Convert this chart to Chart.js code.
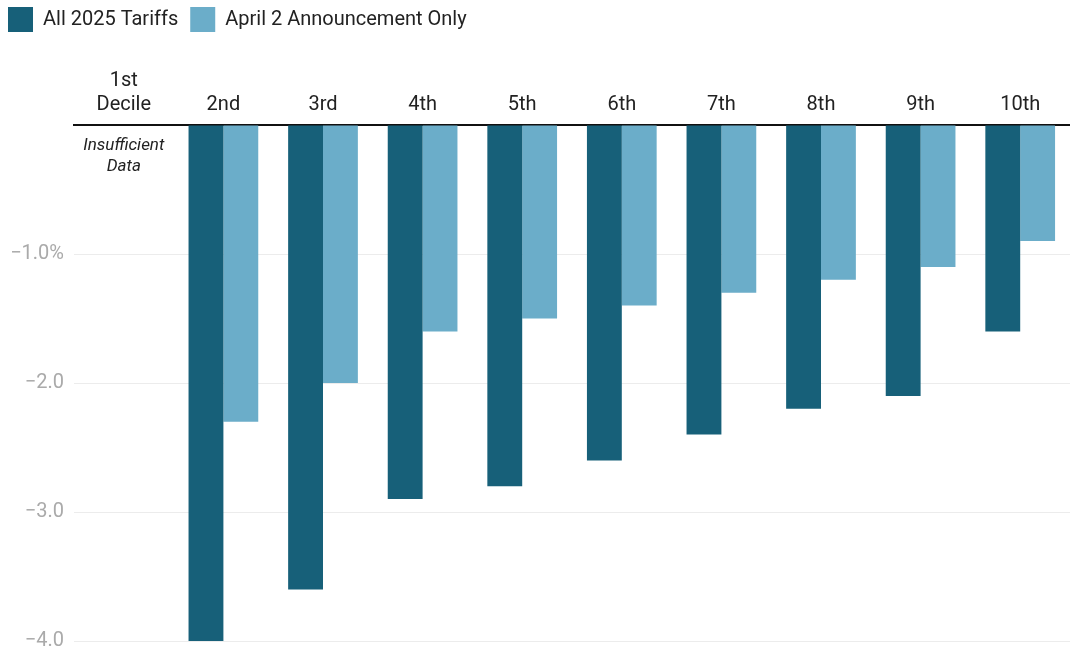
<!DOCTYPE html>
<html>
<head>
<meta charset="utf-8">
<script src="https://cdn.jsdelivr.net/npm/chart.js@4/dist/chart.umd.min.js"></script>
<style>
  html, body { margin: 0; padding: 0; background: #fff; }
  #wrap { width: 1070px; height: 653px; }
</style>
</head>
<body>
<div id="wrap"><canvas id="myChart" width="1070" height="653"></canvas></div>
<script>
const deciles = [["1st", "Decile"], "2nd", "3rd", "4th", "5th", "6th", "7th", "8th", "9th", "10th"];
// percent change, 1st decile has no data
const allTariffs = [null, -4.0, -3.6, -2.9, -2.8, -2.6, -2.4, -2.2, -2.1, -1.6];
const april2Only = [null, -2.3, -2.0, -1.6, -1.5, -1.4, -1.3, -1.2, -1.1, -0.9];
const yTicks = [0, -1, -2, -3, -4];

const DARK = "#176079";
const LIGHT = "#6badc9";
const TEXT = "#222222";

Chart.defaults.font.family = "Roboto, 'Noto Sans', sans-serif";

// note under the empty first decile
const noDataNote = {
  id: "noDataNote",
  afterDatasetsDraw(chart) {
    const ctx = chart.ctx;
    const x = chart.scales.x.getPixelForValue(0);
    const y0 = chart.scales.y.getPixelForValue(0);
    ctx.save();
    ctx.fillStyle = TEXT;
    ctx.font = "italic 17px Roboto, sans-serif";
    ctx.textAlign = "center";
    ctx.textBaseline = "middle";
    ctx.fillText("Insufficient", x, y0 + 21);
    ctx.fillText("Data", x, y0 + 42);
    ctx.restore();
  }
};

const CHART = document.getElementById("myChart");
let myChart = new Chart(CHART, {
  type: "bar",
  data: {
    labels: deciles,
    datasets: [{
      label: "All 2025 Tariffs",
      backgroundColor: DARK,
      data: allTariffs
    }, {
      label: "April 2 Announcement Only",
      backgroundColor: LIGHT,
      data: april2Only
    }]
  },
  options: {
    responsive: false,
    animation: false,
    categoryPercentage: 0.7,
    barPercentage: 1.0,
    layout: { padding: { left: -4, right: 0, top: -5, bottom: 12 } },
    plugins: {
      tooltip: { enabled: false },
      legend: {
        position: "top",
        align: "start",
        labels: {
          boxWidth: 25,
          boxHeight: 25,
          padding: 12,
          color: TEXT,
          font: { size: 20 }
        }
      }
    },
    scales: {
      x: {
        position: "top",
        grid: { display: false },
        border: { display: true, color: "#111", width: 2 },
        ticks: {
          color: TEXT,
          font: { size: 20, lineHeight: 1.2 },
          padding: 0,
          maxRotation: 0
        },
        afterFit(scale) { scale.height = 83; }
      },
      y: {
        min: -4,
        max: 0,
        grid: { color: "#ececec", lineWidth: 1, drawTicks: false },
        border: { display: false },
        afterBuildTicks(scale) { scale.ticks = yTicks.map(v => ({ value: v })); },
        afterFit(scale) {
          scale.width = 78;
          scale.paddingTop = 0;
          scale.paddingBottom = 0;
        },
        ticks: {
          color: "#aaaaaa",
          font: { size: 20, lineHeight: 1.2 },
          padding: 10,
          callback(value) {
            if (value === 0) return "";
            const s = "\u2212" + Math.abs(value).toFixed(1);
            return value === -1 ? s + "%" : s;
          }
        }
      }
    }
  },
  plugins: [noDataNote]
});
</script>
</body>
</html>
